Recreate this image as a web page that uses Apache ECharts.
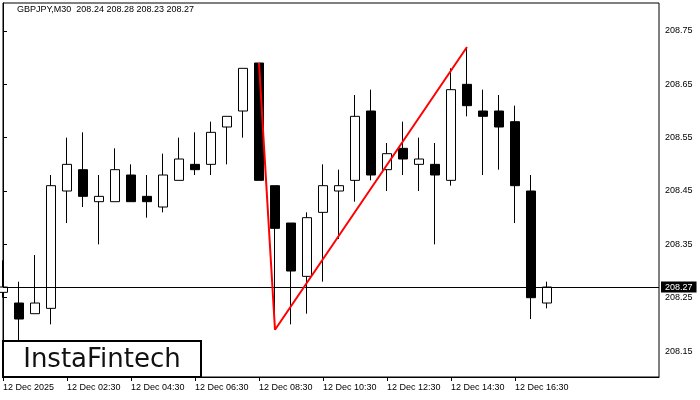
<!DOCTYPE html>
<html>
<head>
<meta charset="utf-8">
<script src="https://cdn.jsdelivr.net/npm/echarts@6/dist/echarts.min.js"></script>
<style>
  html, body { margin: 0; padding: 0; background: #fff; }
  #chart { width: 700px; height: 400px; }
</style>
</head>
<body>
<div id="chart"></div>
<script>
// GBPJPY M30 candles, index 0 = 12 Dec 00:30, one bar per 30 min
const opens  = [208.26, 208.24, 208.22, 208.23, 208.45, 208.49, 208.43, 208.43, 208.48, 208.44, 208.42, 208.47,
                208.50, 208.50, 208.57, 208.60, 208.69, 208.46, 208.39, 208.29, 208.41, 208.45, 208.47, 208.60,
                208.49, 208.53, 208.50, 208.50, 208.47, 208.65, 208.60, 208.60, 208.58, 208.45, 208.24]
const closes = [208.27, 208.21, 208.24, 208.46, 208.50, 208.44, 208.44, 208.49, 208.43, 208.43, 208.48, 208.51,
                208.49, 208.56, 208.59, 208.68, 208.47, 208.38, 208.30, 208.40, 208.46, 208.46, 208.59, 208.48,
                208.52, 208.51, 208.51, 208.48, 208.64, 208.61, 208.59, 208.57, 208.46, 208.25, 208.27]
const lows   = [208.25, 208.17, 208.22, 208.20, 208.39, 208.42, 208.35, 208.43, 208.43, 208.40, 208.41, 208.47,
                208.48, 208.48, 208.50, 208.55, 208.47, 208.19, 208.20, 208.22, 208.28, 208.36, 208.43, 208.47,
                208.45, 208.48, 208.45, 208.35, 208.46, 208.59, 208.48, 208.49, 208.39, 208.21, 208.23]
const highs  = [208.32, 208.28, 208.33, 208.48, 208.55, 208.56, 208.48, 208.53, 208.50, 208.48, 208.52, 208.55,
                208.56, 208.58, 208.59, 208.68, 208.69, 208.46, 208.39, 208.41, 208.50, 208.49, 208.63, 208.64,
                208.54, 208.58, 208.55, 208.54, 208.68, 208.72, 208.64, 208.63, 208.61, 208.48, 208.28]

// time axis ticks (bar index -> label)
const tickIdx = [0, 4, 8, 12, 16, 20, 24, 28, 32]
const tickLabels = ['12 Dec 2025', '12 Dec 02:30', '12 Dec 04:30', '12 Dec 06:30', '12 Dec 08:30',
                    '12 Dec 10:30', '12 Dec 12:30', '12 Dec 14:30', '12 Dec 16:30']
const priceTicks = [208.15, 208.25, 208.35, 208.45, 208.55, 208.65, 208.75]

// double top pattern (red lines)
const patternX = [16, 17, 29]
const patternY = [208.69, 208.19, 208.72]

const lastPrice = 208.27
const font = 'Liberation Sans'

const n = opens.length - 1
const titleText = 'GBPJPY,M30  ' + [opens[n], highs[n], lows[n], closes[n]].map(v => v.toFixed(2)).join(' ')

const myChart = echarts.init(document.getElementById('chart'))

const option = {
  animation: false,
  title: {
    text: titleText,
    left: 17,
    top: 5,
    padding: 0,
    textStyle: { fontSize: 9, fontWeight: 'normal', color: '#000', fontFamily: font }
  },
  grid: {
    left: 3,
    top: 3,
    width: 656,
    height: 374,
    show: true,
    borderColor: '#000',
    borderWidth: 1,
    backgroundColor: '#fff'
  },
  xAxis: {
    type: 'value',
    min: 0,
    max: 41,
    splitLine: { show: false },
    axisLine: { show: true, lineStyle: { color: '#000', width: 1 } },
    axisTick: { show: true, customValues: tickIdx, length: 4, lineStyle: { color: '#000' } },
    axisLabel: {
      customValues: tickIdx,
      align: 'left',
      margin: 6,
      fontSize: 9,
      color: '#000',
      fontFamily: font,
      formatter: v => tickLabels[tickIdx.indexOf(v)] || ''
    }
  },
  yAxis: {
    type: 'value',
    position: 'right',
    min: 208.1013,
    max: 208.8025,
    splitLine: { show: false },
    axisLine: { show: true, lineStyle: { color: '#000', width: 1 } },
    axisTick: { show: true, customValues: priceTicks, length: 4, lineStyle: { color: '#000' } },
    axisLabel: {
      customValues: priceTicks,
      margin: 6,
      fontSize: 9,
      color: '#000',
      fontFamily: font,
      formatter: v => v.toFixed(2)
    }
  },
  series: [
    {
      type: 'candlestick',
      data: opens.map((o, i) => [i, o, closes[i], lows[i], highs[i]]),
      barWidth: 10,
      itemStyle: {
        color: '#fff',
        color0: '#000',
        borderColor: '#000',
        borderColor0: '#000',
        borderWidth: 1
      },
      markLine: {
        silent: true,
        symbol: ['none', 'none'],
        lineStyle: { color: '#000', width: 1, type: 'solid' },
        label: {
          show: true,
          position: 'end',
          distance: 2,
          formatter: lastPrice.toFixed(2),
          backgroundColor: '#000',
          color: '#fff',
          padding: [1, 4, 1, 4],
          fontSize: 9,
          fontFamily: font
        },
        data: [{ yAxis: lastPrice }]
      }
    },
    {
      type: 'line',
      data: patternX.map((x, i) => [x, patternY[i]]),
      symbol: 'none',
      z: 5,
      lineStyle: { color: '#ff0000', width: 2 }
    }
  ],
  graphic: [
    {
      type: 'rect',
      z: 100,
      shape: { x: 3, y: 341, width: 198, height: 36 },
      style: { fill: '#fff', stroke: '#000', lineWidth: 2 }
    },
    {
      type: 'text',
      z: 101,
      x: 102,
      y: 360,
      style: {
        text: 'InstaFintech',
        fill: '#111',
        font: '26px "DejaVu Sans"',
        align: 'center',
        verticalAlign: 'middle'
      }
    }
  ]
}

myChart.setOption(option)
window.addEventListener('resize', () => {
  myChart.resize()
})
</script>
</body>
</html>
